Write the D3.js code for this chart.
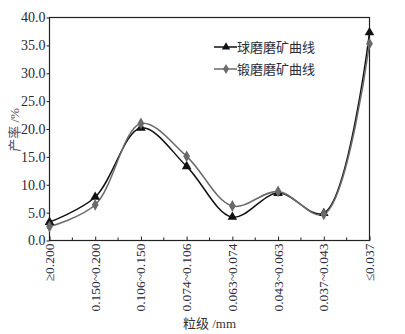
<!DOCTYPE html>
<html>
<head>
<meta charset="utf-8">
<script src="https://cdn.jsdelivr.net/npm/d3@7"></script>
<style>
  body { margin: 0; background: #fff; }
  svg { display: block; }
</style>
</head>
<body>
<div id="chart"></div>
<script>
// data
var categories = ['≥0.200', '0.150~0.200', '0.106~0.150', '0.074~0.106',
  '0.063~0.074', '0.043~0.063', '0.037~0.043', '≤0.037'];
var ball_values = [3.3, 7.8, 20.2, 13.3, 4.2, 8.5, 4.9, 37.3];
var forged_values = [2.5, 6.4, 21.0, 15.1, 6.2, 8.8, 4.7, 35.3];
var y_ticks = [0, 5, 10, 15, 20, 25, 30, 35, 40];

var chart_width = 405;
var chart_height = 334;
// plot area edges (note: "top" is reserved on window)
var plot_left = 49.5, plot_right = 369.5, plot_top = 17.5, plot_bottom = 240.5;

var svg = d3.select('#chart')
  .append('svg')
  .attr('width', chart_width)
  .attr('height', chart_height);

var x_scale = d3.scalePoint()
  .domain(categories)
  .range([plot_left, plot_right]);

var y_scale = d3.scaleLinear()
  .domain([0, 40])
  .range([plot_bottom, plot_top]);

// frame
svg.append('rect')
  .attr('x', plot_left)
  .attr('y', plot_top)
  .attr('width', plot_right - plot_left)
  .attr('height', plot_bottom - plot_top)
  .attr('fill', 'none')
  .attr('stroke', '#222')
  .attr('stroke-width', 1.2);

// y axis
var y_axis = d3.axisLeft(y_scale)
  .tickValues(y_ticks)
  .tickSize(3)
  .tickPadding(1)
  .tickFormat(d3.format('.1f'));
var gy = svg.append('g')
  .attr('class', 'y-axis')
  .attr('transform', 'translate(' + plot_left + ',0)')
  .call(y_axis);
gy.select('.domain').remove();
gy.selectAll('line').attr('stroke', '#222');
gy.selectAll('text')
  .attr('font-family', '"Liberation Serif", serif')
  .attr('font-size', 14)
  .attr('fill', '#2a2a3a');

// x axis, ticks pointing inward with minor ticks between categories
var x_axis = d3.axisBottom(x_scale)
  .tickSize(-4)
  .tickFormat('');
var gx = svg.append('g')
  .attr('class', 'x-axis')
  .attr('transform', 'translate(0,' + plot_bottom + ')')
  .call(x_axis);
gx.select('.domain').remove();
gx.selectAll('line').attr('stroke', '#222');

var step = x_scale.step();
svg.append('g')
  .selectAll('line')
  .data(categories.slice(0, -1))
  .enter()
  .append('line')
  .attr('x1', function(d) { return x_scale(d) + step / 2; })
  .attr('x2', function(d) { return x_scale(d) + step / 2; })
  .attr('y1', plot_bottom)
  .attr('y2', plot_bottom - 3)
  .attr('stroke', '#222');

// x labels, rotated
svg.append('g')
  .selectAll('text')
  .data(categories)
  .enter()
  .append('text')
  .text(function(d) { return d; })
  .attr('transform', function(d) {
    return 'translate(' + (x_scale(d) + 4.5) + ',' + (plot_bottom + 3) + ') rotate(-90)';
  })
  .attr('text-anchor', 'end')
  .attr('font-family', '"Liberation Serif", serif')
  .attr('font-size', 13.5)
  .attr('fill', '#2a2a3a');

// axis titles
svg.append('text')
  .attr('x', (plot_left + plot_right) / 2)
  .attr('y', 328)
  .attr('text-anchor', 'middle')
  .attr('font-family', '"Liberation Serif", "Noto Sans CJK SC", serif')
  .attr('font-size', 13)
  .attr('fill', '#333')
  .text('粒级 /mm');

svg.append('text')
  .attr('transform', 'translate(19,130) rotate(-90)')
  .attr('text-anchor', 'middle')
  .attr('font-family', '"Liberation Serif", "Noto Sans CJK SC", serif')
  .attr('font-size', 13)
  .attr('fill', '#5a4a6a')
  .text('产率 /%');

// curves
var line = d3.line()
  .x(function(d, i) { return x_scale(categories[i]); })
  .y(function(d) { return y_scale(d); })
  .curve(d3.curveCatmullRom.alpha(0.5));

var series = [
  { name: '球磨磨矿曲线', values: ball_values, color: '#111', marker: d3.symbolTriangle },
  { name: '锻磨磨矿曲线', values: forged_values, color: '#6a6a6a', marker: d3.symbolDiamond }
];

var plot = svg.append('g');
series.forEach(function(s) {
  plot.append('path')
    .datum(s.values)
    .attr('d', line)
    .attr('fill', 'none')
    .attr('stroke', s.color)
    .attr('stroke-width', 1.5);
});
series.forEach(function(s) {
  plot.append('g')
    .selectAll('path')
    .data(s.values)
    .enter()
    .append('path')
    .attr('d', d3.symbol().type(s.marker).size(40))
    .attr('transform', function(d, i) {
      return 'translate(' + x_scale(categories[i]) + ',' + y_scale(d) + ')';
    })
    .attr('fill', s.color);
});

// legend
var legend = svg.append('g')
  .selectAll('g')
  .data(series)
  .enter()
  .append('g')
  .attr('transform', function(d, i) {
    return 'translate(214,' + (47 + i * 22) + ')';
  });
legend.append('line')
  .attr('x1', 0).attr('x2', 23)
  .attr('stroke', function(d) { return d.color; })
  .attr('stroke-width', 1.5);
legend.append('path')
  .attr('d', function(d) { return d3.symbol().type(d.marker).size(30)(); })
  .attr('transform', 'translate(12,0)')
  .attr('fill', function(d) { return d.color; });
legend.append('text')
  .attr('x', 23)
  .attr('y', 4.5)
  .attr('font-family', '"Noto Sans CJK SC", sans-serif')
  .attr('font-size', 13)
  .attr('fill', '#2a2a3a')
  .text(function(d) { return d.name; });
</script>
</body>
</html>
